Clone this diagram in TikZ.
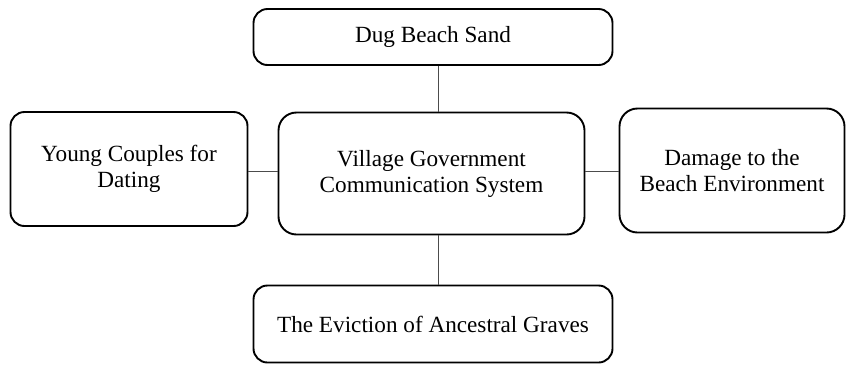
\documentclass[tikz,border=0pt]{standalone}
\usepackage{fontspec}
\setmainfont{Liberation Serif}
\begin{document}
\begin{tikzpicture}[x=1pt,y=-1pt,
  topic/.style={draw=black, line width=1.9pt, rounded corners=14pt, align=center,
    font=\fontsize{23.2}{26}\selectfont, inner sep=0pt},
  link/.style={draw=black!70, line width=1pt}]
  \useasboundingbox (0,0) rectangle (846,365);
  % boxes
  \node[topic, minimum width=359pt, minimum height=56pt] (sand) at (433,37) {Dug Beach Sand};
  \node[topic, minimum width=237pt, minimum height=114pt] (dating) at (129,169) {Young Couples for\\Dating};
  \node[topic, minimum width=306pt, minimum height=122pt, rounded corners=18pt] (village) at (431.5,173.5) {Village Government\\Communication System};
  \node[topic, minimum width=225pt, minimum height=124pt, rounded corners=18pt] (damage) at (732,170.5) {Damage to the\\Beach Environment};
  \node[topic, minimum width=359pt, minimum height=77pt] (graves) at (433,324) {The Eviction of Ancestral Graves};
  % connector guides
  \coordinate (vx) at (438,0);
  \coordinate (hy) at (0,171);
  % connectors
  \draw[link] (sand.south -| vx) -- (village.north -| vx);
  \draw[link] (village.south -| vx) -- (graves.north -| vx);
  \draw[link] (dating.east |- hy) -- (village.west |- hy);
  \draw[link] (village.east |- hy) -- (damage.west |- hy);
\end{tikzpicture}
\end{document}
